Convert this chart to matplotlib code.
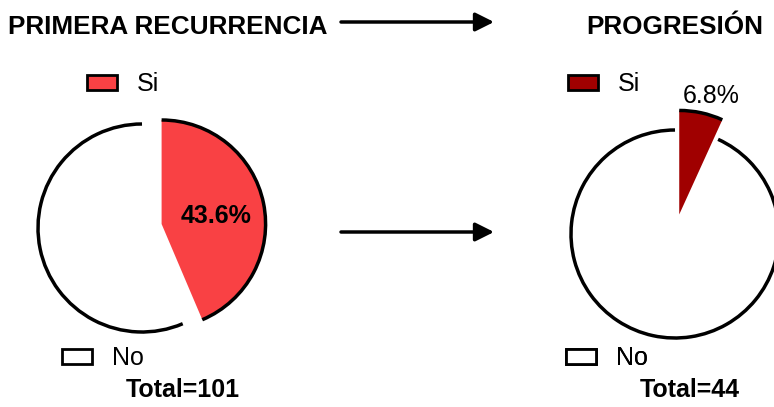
import matplotlib.pyplot as plt
from matplotlib.patches import Arc, Patch

plt.rcParams['font.family'] = ['Liberation Sans', 'DejaVu Sans']

# data
categories = ["Si", "No"]
recurrencia = [43.6, 56.4]
progresion = [6.8, 93.2]
total_recurrencia = 101
total_progresion = 44
colors_recurrencia = ["#F94144", "white"]
colors_progresion = ["#A00000", "white"]

W, H = 774, 407
fig = plt.figure(figsize=(W / 100, H / 100), dpi=100)
ax = fig.add_axes([0, 0, 1, 1])

R = 104


def draw_pie(values, colors, center):
    # explode is in data units here (pixels)
    wedges, _ = ax.pie(values, colors=colors, startangle=90, counterclock=False,
                       explode=[20, 0], radius=R, center=center,
                       wedgeprops=dict(linewidth=0), frame=True)
    # only the outer arcs are stroked
    for w in wedges:
        ax.add_patch(Arc(w.center, 2 * w.r, 2 * w.r, theta1=w.theta1, theta2=w.theta2,
                         lw=2.5, color="black", zorder=3))
    return wedges


def add_legend(label, color, x, y):
    h = Patch(facecolor=color, edgecolor="black", linewidth=2)
    leg = ax.legend([h], [label], loc="center left", bbox_to_anchor=(x, H - y),
                    bbox_transform=ax.transData, frameon=False, fontsize=18,
                    borderpad=0, borderaxespad=0, handlelength=1.2, handleheight=0.55,
                    handletextpad=0.8)
    ax.add_artist(leg)


w1 = draw_pie(recurrencia, colors_recurrencia, (142, H - 228))
w2 = draw_pie(progresion, colors_progresion, (675, H - 234))
ax.set_xlim(0, W)
ax.set_ylim(0, H)
ax.set_aspect("equal")
ax.axis("off")

ax.text(216, H - 216, f"{recurrencia[0]}%", fontsize=18, fontweight="bold",
        ha="center", va="center")
ax.text(711, H - 96, f"{progresion[0]}%", fontsize=18, ha="center", va="center")

add_legend(categories[0], colors_recurrencia[0], 87, 84)
add_legend(categories[1], colors_recurrencia[1], 62, 358)
add_legend(categories[0], colors_progresion[0], 568, 84)
add_legend(categories[1], colors_progresion[1], 566, 358)

ax.text(8, H - 27, "PRIMERA RECURRENCIA", fontsize=18.8, fontweight="bold",
        ha="left", va="center")
ax.text(675, H - 27, "PROGRESIÓN", fontsize=18.8, fontweight="bold",
        ha="center", va="center")
ax.text(183, H - 390, f"Total={total_recurrencia}", fontsize=18, fontweight="bold",
        ha="center", va="center")
ax.text(690, H - 390, f"Total={total_progresion}", fontsize=18, fontweight="bold",
        ha="center", va="center")

arrow = dict(arrowstyle="-|>", lw=2.5, color="black", mutation_scale=28,
             shrinkA=0, shrinkB=0)
ax.annotate("", xy=(494, H - 22), xytext=(341, H - 22), arrowprops=arrow)
ax.annotate("", xy=(494, H - 232), xytext=(341, H - 232), arrowprops=arrow)

fig.savefig("out.png", dpi=100)
